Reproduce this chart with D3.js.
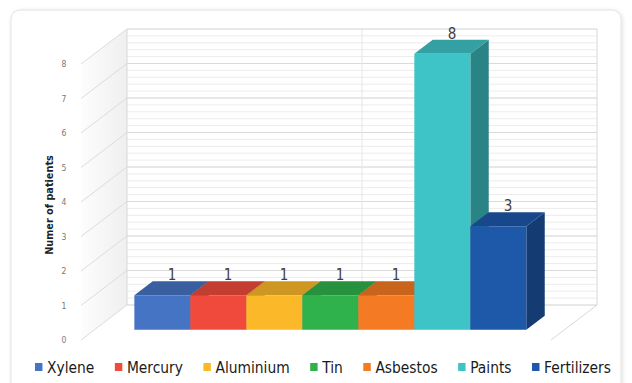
<!DOCTYPE html>
<html><head><meta charset="utf-8">
<script src="https://cdn.jsdelivr.net/npm/d3@7"></script>
<style>
html,body{margin:0;padding:0;background:#fff;}
svg{display:block;}
</style></head>
<body>
<svg id="chart" width="632" height="383"></svg>
<script>
// ---- data ----
const categories = ["Xylene","Mercury","Aluminium","Tin","Asbestos","Paints","Fertilizers"];
const values = [1,1,1,1,1,8,3];
const colors = ["#4674c4","#ef4a3c","#fbb829","#2fb24c","#f47a23","#3ec3c6","#1d58a9"];
const yTicks = [0,1,2,3,4,5,6,7,8];
const yTitle = "Numer of patients";

const svg = d3.select("#chart");
const defs = svg.append("defs");
const f = defs.append("filter").attr("id","sh").attr("x","-5%").attr("y","-5%").attr("width","110%").attr("height","110%");
f.append("feDropShadow").attr("dx",1).attr("dy",1).attr("stdDeviation",2).attr("flood-color","#000").attr("flood-opacity",0.12);
const lg = defs.append("linearGradient").attr("id","lw").attr("x1","0").attr("x2","1").attr("y1","0").attr("y2","0");
lg.append("stop").attr("offset","0").attr("stop-color","#fdfdfd");
lg.append("stop").attr("offset","1").attr("stop-color","#efefef");

// card
svg.append("rect").attr("x",11).attr("y",10).attr("width",610).attr("height",385).attr("rx",9)
  .attr("fill","#fff").attr("stroke","#e2e2e2").attr("filter","url(#sh)");

// 3D projection
const DX = 46, DY = -35;
const P = (x, y, d) => [x + d*DX, y + d*DY];
const plotLeft = 81, plotRight = 551;
const y = d3.scaleLinear().domain([0,8]).range([340,64]);
const x = d3.scaleBand().domain(categories).range([121,513]).padding(0);
const d0 = 0.29, d1 = 0.69;
const FONT = "DejaVu Sans Condensed, DejaVu Sans";

const g = svg.append("g");

// left wall
const lw = [P(plotLeft,y(0),0),P(plotLeft,y(0),1),P(plotLeft,y(8),1),P(plotLeft,y(8),0)];
g.append("polygon").attr("points",lw.map(p=>p.join(",")).join(" ")).attr("fill","url(#lw)");

// back wall gridlines
const minor = d3.range(0, 8.0001, 0.2);
g.selectAll("line.minor").data(minor).join("line")
  .attr("x1",P(plotLeft,0,1)[0]).attr("x2",P(plotRight,0,1)[0])
  .attr("y1",v=>P(0,y(v),1)[1]).attr("y2",v=>P(0,y(v),1)[1])
  .attr("stroke","#ececec").attr("stroke-width",1);
g.selectAll("line.major").data(yTicks).join("line")
  .attr("x1",P(plotLeft,0,1)[0]).attr("x2",P(plotRight,0,1)[0])
  .attr("y1",v=>P(0,y(v),1)[1]).attr("y2",v=>P(0,y(v),1)[1])
  .attr("stroke","#dadada").attr("stroke-width",1);
g.selectAll("line.slant").data(yTicks).join("line")
  .attr("x1",P(plotLeft,0,0)[0]).attr("x2",P(plotLeft,0,1)[0])
  .attr("y1",v=>y(v)).attr("y2",v=>P(0,y(v),1)[1])
  .attr("stroke","#dcdcdc").attr("stroke-width",1);
const bl = P(plotLeft,y(0),1), tl = P(plotLeft,y(8),1), br = P(plotRight,y(0),1), tr = P(plotRight,y(8),1);
g.append("line").attr("x1",bl[0]).attr("y1",bl[1]).attr("x2",tl[0]).attr("y2",tl[1]).attr("stroke","#d8d8d8");
g.append("line").attr("x1",br[0]).attr("y1",br[1]).attr("x2",tr[0]).attr("y2",tr[1]).attr("stroke","#d8d8d8");
const midX = P((plotLeft+plotRight)/2,0,1)[0];
g.append("line").attr("x1",midX).attr("x2",midX).attr("y1",tl[1]).attr("y2",bl[1]).attr("stroke","#e6e6e6");
const fr = P(plotRight,y(0),0);
g.append("line").attr("x1",br[0]).attr("y1",br[1]).attr("x2",fr[0]).attr("y2",fr[1]).attr("stroke","#d8d8d8");

// y tick labels
g.selectAll("text.tick").data(yTicks).join("text")
  .attr("x",64).attr("y",v=>y(v)+3)
  .attr("text-anchor","middle").attr("font-family",FONT).attr("font-size",8.5)
  .attr("fill","#777").text(v=>v);

// y title
svg.append("text").attr("transform","translate(53,205) rotate(-90)")
  .attr("text-anchor","middle").attr("font-family",FONT)
  .attr("font-weight","bold").attr("font-size",10.8).attr("fill","#222").text(yTitle);

// bars
const bars = g.append("g");
categories.forEach((c,i)=>{
  const v = values[i], col = d3.color(colors[i]);
  const xl = x(c), xr = x(c)+x.bandwidth();
  const yt = y(v), yb = y(0);
  const front = [P(xl,yt,d0),P(xr,yt,d0),P(xr,yb,d0),P(xl,yb,d0)];
  const top = [P(xl,yt,d0),P(xr,yt,d0),P(xr,yt,d1),P(xl,yt,d1)];
  const side = [P(xr,yt,d0),P(xr,yt,d1),P(xr,yb,d1),P(xr,yb,d0)];
  const bg = bars.append("g");
  bg.append("polygon").attr("points",side.map(p=>p.join(",")).join(" ")).attr("fill",col.darker(1.1).formatHex());
  bg.append("polygon").attr("points",top.map(p=>p.join(",")).join(" ")).attr("fill",col.darker(0.55).formatHex());
  bg.append("polygon").attr("points",front.map(p=>p.join(",")).join(" ")).attr("fill",col.formatHex());
});
// data labels
categories.forEach((c,i)=>{
  const p = P(x(c)+x.bandwidth()/2, y(values[i]), 0.5);
  g.append("text").attr("x",p[0]).attr("y",p[1]-8).attr("text-anchor","middle")
    .attr("font-family",FONT).attr("font-size",15)
    .attr("fill","#404040").text(values[i]);
});

// legend: items laid out by measured text width, then scaled horizontally to the legend span
const leg = svg.append("g");
let cx = 0;
categories.forEach((c,i)=>{
  const it = leg.append("g");
  it.append("rect").attr("x",0).attr("y",-4).attr("width",8).attr("height",8).attr("fill",colors[i]);
  const t = it.append("text").attr("x",13).attr("y",6)
    .attr("font-family",FONT).attr("font-size",16.5)
    .attr("fill","#1a1a1a").text(c);
  const w = 13 + t.node().getComputedTextLength();
  it.attr("transform",`translate(${cx},0)`);
  cx += w + 22;
});
const total = cx - 22;
const span = 576, sx = span/total;
leg.attr("transform",`translate(35,367) scale(${sx},1)`);
</script>
</body></html>
